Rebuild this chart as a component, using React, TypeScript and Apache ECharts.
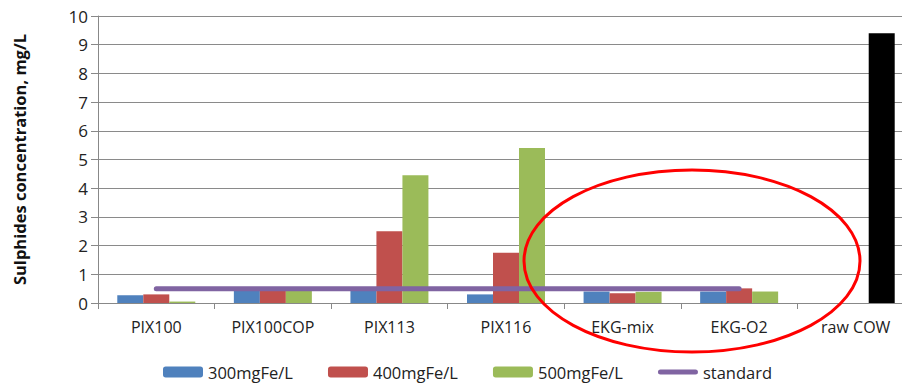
import React, { useEffect, useRef } from "react";
import * as echarts from "echarts";

const categories = ["PIX100", "PIX100COP", "PIX113", "PIX116", "EKG-mix", "EKG-O2", "raw COW"];
const s300 = [0.27, 0.42, 0.45, 0.3, 0.4, 0.4, null];
const s400 = [0.3, 0.42, 2.5, 1.75, 0.34, 0.51, null];
const s500 = [0.05, 0.42, 4.45, 5.4, 0.39, 0.4, 9.4];
const standard = [0.5, 0.5, 0.5, 0.5, 0.5, 0.5, null];
const yTicks = [0, 1, 2, 3, 4, 5, 6, 7, 8, 9, 10];

const FONT = "'Open Sans', 'Noto Sans', sans-serif";

export default function App() {
  const ref = useRef<HTMLDivElement>(null);
  useEffect(() => {
    document.body.style.margin = "0";
    const chart = echarts.init(ref.current!, null, { renderer: "svg" });
    const green500 = s500.map((v, i) =>
      i === categories.length - 1 ? { value: v, itemStyle: { color: "#000000" } } : v
    );
    chart.setOption({
      animation: false,
      backgroundColor: "#ffffff",
      textStyle: { fontFamily: FONT },
      grid: { left: 98, top: 16, bottom: 82, right: 0 },
      legend: {
        left: 163,
        top: 362,
        padding: 0,
        itemWidth: 40,
        itemHeight: 11,
        itemGap: 35,
        textStyle: { fontSize: 16.5, color: "#222", fontFamily: FONT, lineHeight: 20 },
        data: [
          "300mgFe/L",
          "400mgFe/L",
          "500mgFe/L",
          { name: "standard", icon: "path://M2.5,0L37.5,0A2.5,2.5,0,0,1,37.5,5L2.5,5A2.5,2.5,0,0,1,2.5,0Z" },
        ],
      },
      xAxis: {
        type: "category",
        data: categories,
        axisLine: { lineStyle: { color: "#888", width: 1 } },
        axisTick: { show: true, length: 6, lineStyle: { color: "#888" } },
        axisLabel: { fontSize: 16, color: "#222", margin: 16, fontFamily: FONT },
      },
      yAxis: {
        type: "value",
        min: yTicks[0],
        max: yTicks[yTicks.length - 1],
        interval: 1,
        name: "Sulphides concentration, mg/L",
        nameLocation: "middle",
        nameRotate: 90,
        nameGap: 70,
        nameTextStyle: { fontSize: 16.5, fontWeight: "bold", color: "#111", fontFamily: FONT },
        axisLine: { show: true, lineStyle: { color: "#888" } },
        axisTick: { show: true, length: 7, lineStyle: { color: "#888" } },
        axisLabel: { fontSize: 17, color: "#222", margin: 10, fontFamily: FONT },
        splitLine: { lineStyle: { color: "#8a8a8a", width: 1 } },
      },
      series: [
        {
          name: "300mgFe/L",
          type: "bar",
          data: s300,
          barWidth: 26,
          barGap: "0%",
          itemStyle: { color: "#4F81BD" },
        },
        {
          name: "400mgFe/L",
          type: "bar",
          data: s400,
          barWidth: 26,
          barGap: "0%",
          itemStyle: { color: "#C0504D" },
        },
        {
          name: "500mgFe/L",
          type: "bar",
          data: green500,
          barWidth: 26,
          barGap: "0%",
          itemStyle: { color: "#9BBB59" },
        },
        {
          name: "standard",
          type: "line",
          data: standard,
          symbol: "none",
          z: 5,
          itemStyle: { color: "#8064A2" },
          lineStyle: { color: "#8064A2", width: 5, cap: "round" },
        },
      ],
      graphic: [
        {
          type: "ellipse",
          shape: { cx: 692, cy: 261, rx: 168, ry: 91 },
          style: { fill: "none", stroke: "#FF0000", lineWidth: 3 },
          z: 10,
        },
      ],
    });
    return () => chart.dispose();
  }, []);
  return (
    <div style={{ width: 902, height: 385, overflow: "hidden", position: "relative" }}>
      <div ref={ref} style={{ width: 914, height: 385 }} />
    </div>
  );
}
